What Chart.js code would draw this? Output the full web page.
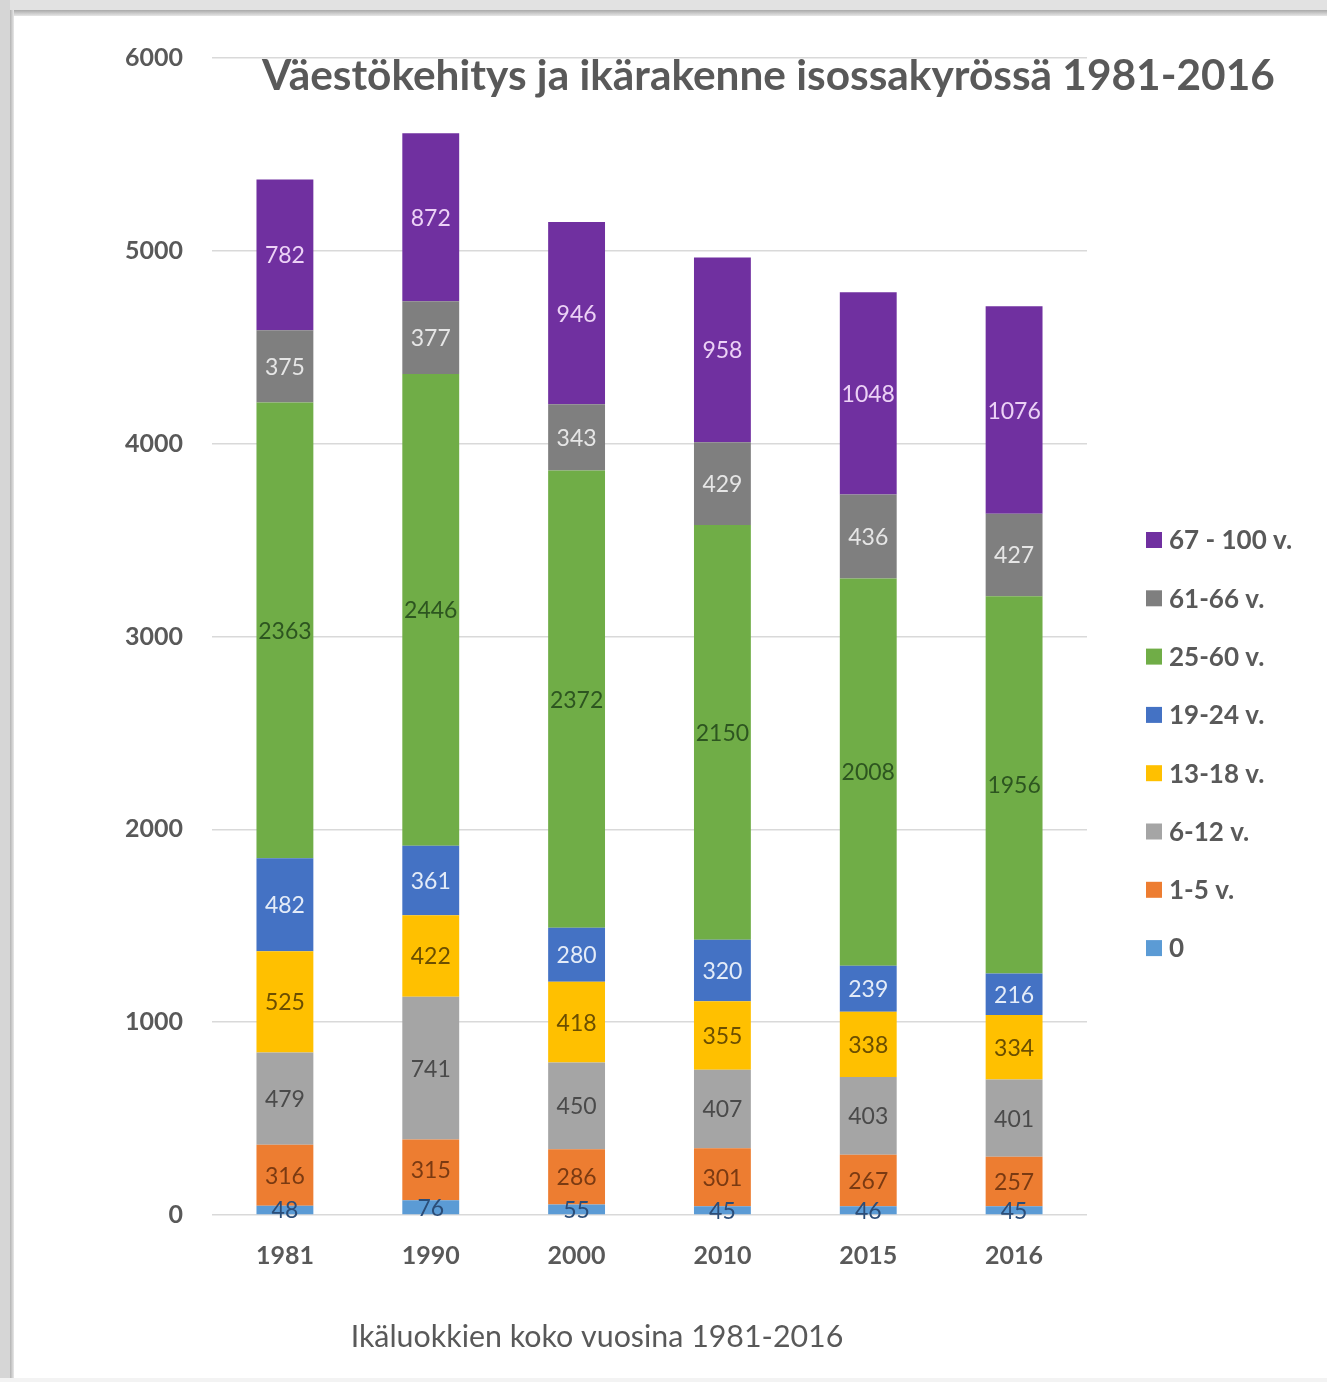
<!DOCTYPE html>
<html>
<head>
<meta charset="utf-8">
<script src="https://cdn.jsdelivr.net/npm/chart.js@4"></script>
<style>
  html, body { margin: 0; padding: 0; background: #fff; }
  #wrap { position: relative; width: 1327px; height: 1382px; overflow: hidden; background: #fff; }
  #c { position: absolute; left: 0; top: 0; }
  .fr { position: absolute; pointer-events: none; }
</style>
</head>
<body>
<div id="wrap">
  <canvas id="c" width="1327" height="1382"></canvas>
  <div class="fr" style="left:0;top:0;width:1327px;height:10px;background:#e2e2e2;"></div>
  <div class="fr" style="left:10px;top:10px;width:1317px;height:6px;background:linear-gradient(#a9a9a9,#e6e6e6);"></div>
  <div class="fr" style="left:0;top:0;width:10px;height:1382px;background:#d6d6d6;"></div>
  <div class="fr" style="left:10px;top:10px;width:4px;height:1372px;background:linear-gradient(90deg,#b3b3b3,#e8e8e8);"></div>
  <div class="fr" style="left:0;top:1378px;width:1327px;height:4px;background:#f3f3f3;"></div>
</div>
<script>
// ---- data ----
const years = ['1981', '1990', '2000', '2010', '2015', '2016'];
const seriesNames = ['0', '1-5 v.', '6-12 v.', '13-18 v.', '19-24 v.', '25-60 v.', '61-66 v.', '67 - 100 v.'];
const age0     = [48, 76, 55, 45, 46, 45];
const age1_5   = [316, 315, 286, 301, 267, 257];
const age6_12  = [479, 741, 450, 407, 403, 401];
const age13_18 = [525, 422, 418, 355, 338, 334];
const age19_24 = [482, 361, 280, 320, 239, 216];
const age25_60 = [2363, 2446, 2372, 2150, 2008, 1956];
const age61_66 = [375, 377, 343, 429, 436, 427];
const age67_100 = [782, 872, 946, 958, 1048, 1076];
const yTicks = [0, 1000, 2000, 3000, 4000, 5000, 6000];
const chartTitle = 'Väestökehitys ja ikärakenne isossakyrössä 1981-2016';
const xTitle = 'Ikäluokkien koko vuosina 1981-2016';

// ---- styles ----
const seriesValues = [age0, age1_5, age6_12, age13_18, age19_24, age25_60, age61_66, age67_100];
const barColors = ['#5B9BD5', '#ED7D31', '#A5A5A5', '#FFC000', '#4472C4', '#70AD47', '#7F7F7F', '#7030A0'];
const labelColors = ['#2b4d78', '#7a3a12', '#4a4a4a', '#6b4e00', '#e4ecf8', '#2d5520', '#e6e6e6', '#ecd2f6'];
const FONT = 'Lato, "Open Sans", sans-serif';
const TXT = '#595959';

const dataLabelPlugin = {
  id: 'dataLabels',
  afterDatasetsDraw(chart) {
    const ctx = chart.ctx;
    ctx.save();
    ctx.font = '23px ' + FONT;
    ctx.textAlign = 'center';
    ctx.textBaseline = 'middle';
    chart.data.datasets.forEach((ds, i) => {
      const meta = chart.getDatasetMeta(i);
      meta.data.forEach((bar, j) => {
        const p = bar.getProps(['x', 'y', 'base'], true);
        ctx.fillStyle = labelColors[i];
        ctx.fillText(String(ds.data[j]), p.x, (p.y + p.base) / 2 + 1);
      });
    });
    ctx.restore();
  }
};

const decorPlugin = {
  id: 'decor',
  afterDraw(chart) {
    const ctx = chart.ctx;
    ctx.save();
    // title
    ctx.fillStyle = TXT;
    ctx.textBaseline = 'middle';
    ctx.textAlign = 'left';
    let fs = 38;
    ctx.font = 'bold ' + fs + 'px ' + FONT;
    let w = ctx.measureText(chartTitle).width;
    fs = fs * 1013 / w;
    ctx.font = 'bold ' + fs.toFixed(2) + 'px ' + FONT;
    ctx.fillText(chartTitle, 262, 76);
    // x axis title
    ctx.textAlign = 'center';
    let fx = 26;
    ctx.font = fx + 'px ' + FONT;
    w = ctx.measureText(xTitle).width;
    fx = fx * 493 / w;
    ctx.font = fx.toFixed(2) + 'px ' + FONT;
    ctx.fillText(xTitle, 597, 1337);
    // legend (reversed)
    ctx.textAlign = 'left';
    ctx.font = 'bold 26px ' + FONT;
    for (let k = 0; k < seriesNames.length; k++) {
      const idx = seriesNames.length - 1 - k;
      const cy = 540 + k * 58.3;
      ctx.fillStyle = barColors[idx];
      ctx.fillRect(1146, cy - 8, 16, 16);
      ctx.fillStyle = TXT;
      ctx.fillText(seriesNames[idx], 1169, cy + 1);
    }
    ctx.restore();
  }
};

new Chart(document.getElementById('c'), {
  type: 'bar',
  data: {
    labels: years,
    datasets: seriesNames.map((n, i) => ({
      label: n,
      data: seriesValues[i],
      backgroundColor: barColors[i],
      borderWidth: 0,
      barPercentage: 0.39,
      categoryPercentage: 1.0
    }))
  },
  options: {
    responsive: false,
    animation: false,
    layout: { padding: { left: 0, right: 240, top: 58, bottom: 0 } },
    plugins: {
      legend: { display: false },
      title: { display: false },
      tooltip: { enabled: false }
    },
    scales: {
      x: {
        stacked: true,
        grid: { display: false, drawTicks: false },
        border: { display: false },
        ticks: { color: TXT, font: { family: FONT, size: 25, weight: 'bold' }, padding: 26 },
        afterFit(s) { s.height = 167; }
      },
      y: {
        stacked: true,
        min: 0,
        max: 6000,
        afterBuildTicks(s) { s.ticks = yTicks.map(v => ({ value: v })); },
        grid: { color: '#d9d9d9', lineWidth: 1.5, drawTicks: false },
        border: { display: false },
        ticks: { color: TXT, font: { family: FONT, size: 25, weight: 'bold' }, padding: 29,
                 callback: v => String(v) },
        afterFit(s) { s.width = 212; }
      }
    }
  },
  plugins: [dataLabelPlugin, decorPlugin]
});
</script>
</body>
</html>
